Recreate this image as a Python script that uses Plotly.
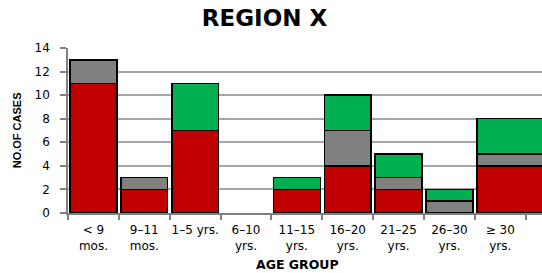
import plotly.graph_objects as go

categories = ["< 9<br>mos.", "9\u201311<br>mos.", "1\u20135 yrs.", "6\u201310<br>yrs.",
              "11\u201315<br>yrs.", "16\u201320<br>yrs.", "21\u201325<br>yrs.",
              "26\u201330<br>yrs.", "\u2265 30<br>yrs."]
red_vals = [11, 2, 7, 0, 2, 4, 2, 0, 4]
gray_vals = [2, 1, 0, 0, 0, 3, 1, 1, 1]
green_vals = [0, 0, 4, 0, 1, 3, 2, 1, 3]
y_ticks = [0, 2, 4, 6, 8, 10, 12, 14]

widths = [0.92] * 8 + [1.5]
offsets = [-0.46] * 9

fig = go.Figure()
for name, vals, col in [("A", red_vals, "#C00000"), ("B", gray_vals, "#808080"), ("C", green_vals, "#00B050")]:
    shown = [v if v else None for v in vals]
    fig.add_trace(go.Bar(x=categories, y=shown, name=name, width=widths, offset=offsets,
                         marker=dict(color=col, line=dict(color="#000000", width=1.5))))

fig.update_layout(
    barmode="stack",
    width=542, height=273,
    margin=dict(l=68, r=0, t=48, b=60),
    paper_bgcolor="white", plot_bgcolor="white",
    showlegend=False,
    title=dict(text="<b>REGION X</b>", x=0.488, xanchor="center", y=0.935, yanchor="middle",
               font=dict(family="DejaVu Sans", size=23, color="#000000")),
    font=dict(family="DejaVu Sans", color="#000000"),
    annotations=[
        dict(text="<b>AGE GROUP</b>", xref="paper", yref="paper", x=0.484, y=-0.31,
             xanchor="center", yanchor="middle", showarrow=False,
             font=dict(family="DejaVu Sans", size=12.5, color="#000000")),
        dict(text="<b>NO.OF CASES</b>", xref="paper", yref="paper", x=-0.108, y=0.5,
             xanchor="center", yanchor="middle", showarrow=False, textangle=-90,
             font=dict(family="Liberation Sans", size=11, color="#000000")),
    ],
)
fig.update_xaxes(
    type="category", range=[-0.5, 8.82], automargin=False, tickangle=0,
    showgrid=False, showline=True, linecolor="#808080", linewidth=1.5,
    tickson="boundaries", ticks="outside", ticklen=5, tickcolor="#808080", tickwidth=1.5,
    ticklabelstandoff=5,
    tickfont=dict(family="DejaVu Sans", size=12, color="#000000"),
)
fig.update_yaxes(
    range=[0, 14], tickmode="array", tickvals=y_ticks, automargin=False,
    showgrid=True, gridcolor="#a6a6a6", gridwidth=2,
    showline=True, linecolor="#808080", linewidth=1.5,
    ticks="outside", ticklen=6, tickcolor="#808080", tickwidth=1.5,
    ticklabelstandoff=8,
    tickfont=dict(family="DejaVu Sans", size=12, color="#000000"),
    zeroline=False,
)
fig.write_html("out.html", config={"displayModeBar": False},
               post_script="document.body.style.margin='0';document.body.style.overflow='hidden';")
